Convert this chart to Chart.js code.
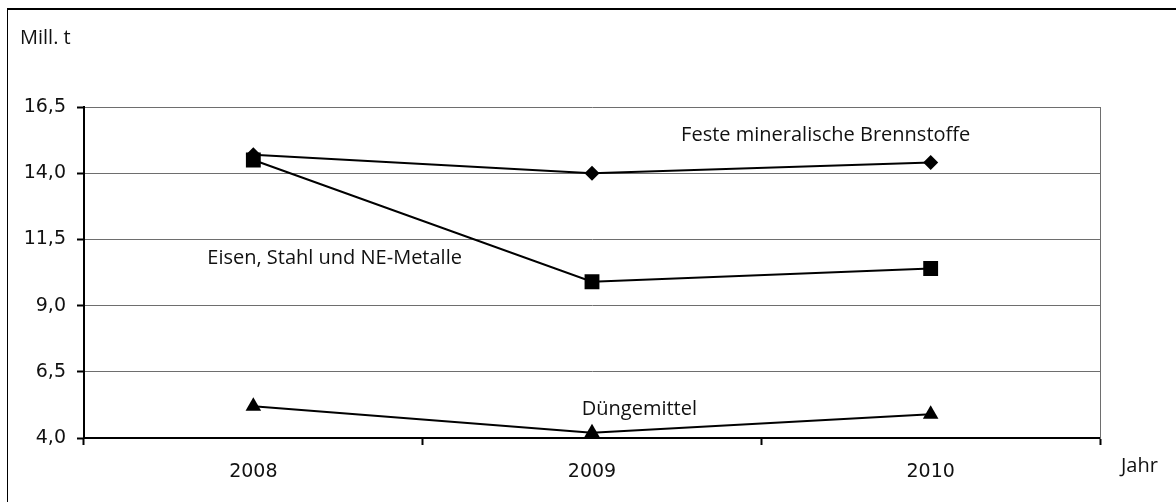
<!DOCTYPE html>
<html>
<head>
<meta charset="utf-8">
<script src="https://cdn.jsdelivr.net/npm/chart.js@4"></script>
<style>
  html, body { margin: 0; padding: 0; background: #fff; }
  #frame {
    position: absolute; left: 7px; top: 8px; width: 1200px; height: 600px;
    border-left: 1px solid #000; border-top: 2px solid #000;
  }
  #wrap { position: absolute; left: 0; top: 0; width: 1176px; height: 502px; }
</style>
</head>
<body>
<div id="frame"></div>
<div id="wrap"><canvas id="chart"></canvas></div>
<script>

const years = ["2008", "2009", "2010"]

const festeBrennstoffe = [14.7, 14.0, 14.4]
const eisenStahl = [14.5, 9.9, 10.4]
const duengemittel = [5.2, 4.2, 4.9]

const yTicks = [4.0, 6.5, 9.0, 11.5, 14.0, 16.5]

const seriesLabels = [
    { text: "Feste mineralische Brennstoffe", at: 1.69, value: 15.45 },
    { text: "Eisen, Stahl und NE-Metalle", at: 0.24, value: 10.8 },
    { text: "Düngemittel", at: 1.14, value: 5.1 }
]

const FONT = "'Open Sans', 'Noto Sans', sans-serif"
const NUMFONT = "'DejaVu Sans', sans-serif"

const textPlugin = {
    id: "texts",
    afterDraw(chart){
        const ctx = chart.ctx
        const x = chart.scales.x
        const y = chart.scales.y
        ctx.save()
        ctx.fillStyle = "#111"
        ctx.font = "20px " + FONT
        ctx.textAlign = "center"
        ctx.textBaseline = "middle"
        seriesLabels.forEach(l=>{
            ctx.fillText(l.text, x.getPixelForValue(l.at), y.getPixelForValue(l.value))
        })
        ctx.textAlign = "left"
        ctx.fillText("Mill. t", 20, 38)
        ctx.fillText("Jahr", 1121, 466)
        ctx.restore()
    }
}

const point = (style, r) => ({
    borderColor: "#000",
    backgroundColor: "#000",
    borderWidth: 2,
    pointStyle: style,
    pointRadius: r,
    pointHoverRadius: r,
    pointBackgroundColor: "#000",
    pointBorderColor: "#000",
    pointBorderWidth: 0,
    tension: 0,
    fill: false
})

new Chart(document.getElementById("chart"), {
    type: "line",
    data: {
        labels: years,
        datasets: [
            { label: "Eisen, Stahl und NE-Metalle", data: eisenStahl, ...point("rect", 10.5) },
            { label: "Feste mineralische Brennstoffe", data: festeBrennstoffe, ...point("rectRot", 7.5) },
            { label: "Düngemittel", data: duengemittel, ...point("triangle", 9) }
        ]
    },
    options: {
        responsive: true,
        maintainAspectRatio: false,
        animation: false,
        layout: { padding: { left: 0, top: 107, right: 76, bottom: 0 } },
        plugins: { legend: { display: false }, tooltip: { enabled: false } },
        scales: {
            x: {
                offset: true,
                grid: {
                    offset: true,
                    drawOnChartArea: false,
                    tickLength: 7,
                    tickWidth: 2,
                    tickColor: "#000"
                },
                border: { color: "#000", width: 2 },
                ticks: { color: "#111", font: { family: NUMFONT, size: 19 }, padding: 16 },
                afterFit(scale){ scale.height = 64 }
            },
            y: {
                min: 4,
                max: 16.5,
                afterBuildTicks(scale){ scale.ticks = yTicks.map(v=>({ value: v })) },
                grid: {
                    color: "#6e6e6e",
                    lineWidth: 1,
                    tickLength: 7,
                    tickWidth: 2,
                    tickColor: "#000"
                },
                border: { color: "#000", width: 2 },
                ticks: {
                    color: "#111",
                    font: { family: NUMFONT, size: 19 },
                    padding: 11,
                    callback: v => v.toFixed(1).replace(".", ",")
                },
                afterFit(scale){ scale.width = 84 }
            },
            y2: {
                position: "right",
                min: 4,
                max: 16.5,
                ticks: { display: false },
                grid: { drawOnChartArea: false, drawTicks: false },
                border: { color: "#6e6e6e", width: 1 },
                afterFit(scale){ scale.width = 0 }
            }
        }
    },
    plugins: [textPlugin]
})
</script>
</body>
</html>
